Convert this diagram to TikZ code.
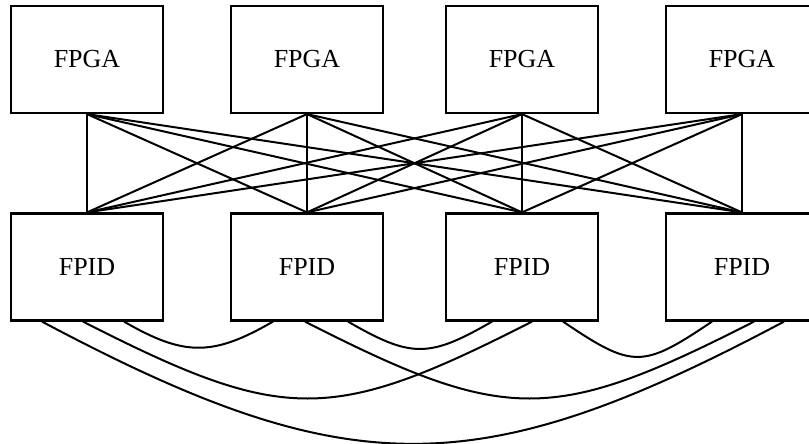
\documentclass[tikz,border=0pt]{standalone}
\usepackage{fontspec}
\setmainfont{Liberation Serif}

\begin{document}
\begin{tikzpicture}
  [x=1pt, y=1pt,
  box/.style={rectangle,draw=black,line width=2.2pt,minimum width=152pt,minimum height=107pt,inner sep=0pt,font=\fontsize{26}{31}\selectfont},
  wire/.style={black,line width=2pt}]
  \useasboundingbox (0,0) rectangle (809,444);

  \node[box] (11) at (87,384.5) {FPGA};
  \node[box] (12) at (307,384.5) {FPGA};
  \node[box] (13) at (522,384.5) {FPGA};
  \node[box] (14) at (742,384.5) {FPGA};

  \node[box] (21) at (87,177) {FPID};
  \node[box] (22) at (307,177) {FPID};
  \node[box] (23) at (522,177) {FPID};
  \node[box] (24) at (742,177) {FPID};

  \draw [wire] (11.south) -- (21.north);
  \draw [wire] (11.south) -- (22.north);
  \draw [wire] (11.south) -- (23.north);
  \draw [wire] (11.south) -- (24.north);

  \draw [wire] (12.south) -- (21.north);
  \draw [wire] (12.south) -- (22.north);
  \draw [wire] (12.south) -- (23.north);
  \draw [wire] (12.south) -- (24.north);

  \draw [wire] (13.south) -- (21.north);
  \draw [wire] (13.south) -- (22.north);
  \draw [wire] (13.south) -- (23.north);
  \draw [wire] (13.south) -- (24.north);

  \draw [wire] (14.south) -- (21.north);
  \draw [wire] (14.south) -- (22.north);
  \draw [wire] (14.south) -- (23.north);
  \draw [wire] (14.south) -- (24.north);

  % links between neighbouring FPIDs
  \draw [wire] ([xshift=37pt]21.south) to[out=-30,in=-150,looseness=1.2] ([xshift=-34pt]22.south);
  \draw [wire] ([xshift=41pt]22.south) to[out=-30,in=-150,looseness=1.3] ([xshift=-30pt]23.south);
  \draw [wire] ([xshift=41pt]23.south) to[out=-34,in=-146,looseness=1.45] ([xshift=-30pt]24.south);

  % longer links
  \draw [wire] ([xshift=-4pt]21.south) to[out=-27,in=-153,looseness=1.29] ([xshift=10pt]23.south);
  \draw [wire] ([xshift=-2pt]22.south) to[out=-27,in=-153,looseness=1.29] ([xshift=12pt]24.south);
  \draw [wire] ([xshift=-45pt]21.south) to[out=-28,in=-152,looseness=1.2] ([xshift=42pt]24.south);

\end{tikzpicture}
\end{document}
